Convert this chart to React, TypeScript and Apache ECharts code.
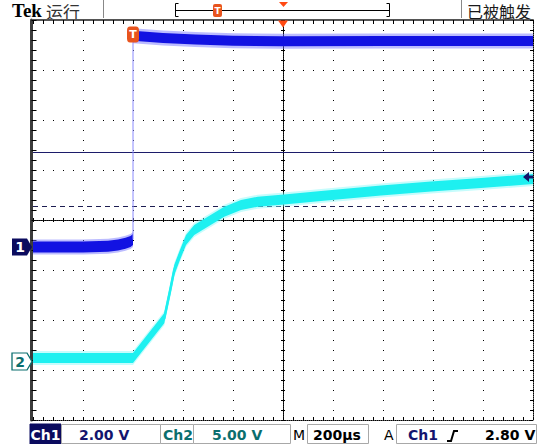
import React, { useEffect, useRef } from "react";
import * as echarts from "echarts";

// ---- scope settings ----
const timePerDivUs = 200;
const timeStartUs = -400;
const timeEndUs = 1600;
const centerTimeUs = 600;
const triggerTimeUs = 0;
const ch1VoltsPerDiv = 2;
const ch2VoltsPerDiv = 5;
const ch1GroundDiv = -0.54;
const ch2GroundDiv = -2.83;
const triggerLevelV = 2.8;
const cursorSolidV = 3.8;
const cursorDashedV = 1.64;

// ---- traces (time in µs, volts) ----
const ch1LowTimes = [-400, -200, -100, -60, -30, -10, 0];
const ch1LowVolts = [0.0, 0.0, 0.03, 0.08, 0.15, 0.22, 0.3];
const ch1HighTimes = [0, 40, 120, 250, 400, 600, 1000, 1300, 1600];
const ch1HighVolts = [8.45, 8.42, 8.36, 8.3, 8.25, 8.23, 8.24, 8.24, 8.24];
const ch1EdgeTimes = [0, 0];
const ch1EdgeVolts = [0.3, 8.2];
const ch2Times = [-400, 0, 125, 149, 165, 185, 212, 245, 299, 365, 432, 499, 604, 752, 992, 1192, 1392, 1600];
const ch2Volts = [0.35, 0.35, 4.32, 7.15, 9.15, 10.48, 12.15, 13.15, 13.98, 14.98, 15.65, 15.98, 16.2, 16.55, 17.1, 17.5, 17.85, 18.25];

// ---- labels ----
const statusLabels = ["Tek", "运行", "已被触发"];
const readoutLabels = ["Ch1", "2.00 V", "Ch2", "5.00 V", "M", "200µs", "A", "Ch1", "2.80 V"];
const channelMarkers = ["1", "2"];
const triggerMarker = "T";

const DOT = "#000000";
const NAVY = "#0b0b5e";
const TEAL = "#0b6e6e";
const ORANGE = "#e8541e";
const FONT = "DejaVu Sans";

const ch1Min = (-4 - ch1GroundDiv) * ch1VoltsPerDiv;
const ch1Max = (4 - ch1GroundDiv) * ch1VoltsPerDiv;
const ch2Min = (-4 - ch2GroundDiv) * ch2VoltsPerDiv;
const ch2Max = (4 - ch2GroundDiv) * ch2VoltsPerDiv;

function bandSeries(times: number[], volts: number[], yAxisIndex: number, half: number, fuzz: number, color: string, fuzzColor: string, z: number) {
  return {
    type: "custom",
    xAxisIndex: 0,
    yAxisIndex,
    z,
    silent: true,
    clip: true,
    encode: { x: 0, y: 1 },
    data: times.map((t, i) => [t, volts[i]]),
    renderItem: (params: any, api: any) => {
      if (params.dataIndex !== 0) return null;
      const poly = (h: number) => {
        const top: number[][] = [];
        const bot: number[][] = [];
        for (let i = 0; i < times.length; i++) {
          const p = api.coord([times[i], volts[i]]);
          top.push([p[0], p[1] - h]);
          bot.unshift([p[0], p[1] + h]);
        }
        return top.concat(bot);
      };
      return {
        type: "group",
        children: [
          { type: "polygon", shape: { points: poly(fuzz) }, style: { fill: fuzzColor, opacity: 0.45 } },
          { type: "polygon", shape: { points: poly(half) }, style: { fill: color } },
        ],
      };
    },
  };
}

function edgeAxis(extra: any) {
  return {
    type: "value",
    axisLabel: { show: false },
    splitLine: { show: false },
    ...extra,
  };
}

function text(x: number, y: number, str: string, fill: string, size: number, weight: string, family: string, align = "left") {
  return {
    type: "text",
    x,
    y,
    silent: true,
    style: { text: str, fill, fontSize: size, fontWeight: weight, fontFamily: family, align, verticalAlign: "middle" },
  };
}

function box(x: number, y: number, w: number, h: number, fill: string, stroke: string) {
  return { type: "rect", silent: true, shape: { x, y, width: w, height: h }, style: { fill, stroke, lineWidth: 1 } };
}

export default function App() {
  const ref = useRef<HTMLDivElement>(null);
  useEffect(() => {
    if (!ref.current) return;
    const chart = echarts.init(ref.current, undefined, { renderer: "svg" });

    const tickStyle = { color: DOT, width: 1 };
    const option: any = {
      animation: false,
      backgroundColor: "#ffffff",
      grid: { left: 33, top: 20, width: 500, height: 400, show: false },
      xAxis: [
        edgeAxis({
          min: timeStartUs, max: timeEndUs, interval: timePerDivUs, position: "bottom",
          axisLine: { show: true, onZero: false, lineStyle: { color: DOT, width: 1, type: [1, 1] } },
          axisTick: { show: true, inside: true, length: 3, lineStyle: tickStyle },
          minorTick: { show: true, splitNumber: 5, length: 3, lineStyle: tickStyle },
          splitLine: { show: true, lineStyle: { color: DOT, width: 1, type: [1, 9] } },
        }),
        edgeAxis({
          min: timeStartUs, max: timeEndUs, interval: timePerDivUs, position: "top",
          axisLine: { show: true, onZero: false, lineStyle: { color: "#555555", width: 2 } },
          axisTick: { show: true, inside: true, length: 4, lineStyle: tickStyle },
          minorTick: { show: true, splitNumber: 5, length: 4, lineStyle: tickStyle },
        }),
        edgeAxis({
          min: -5, max: 5, interval: 1, position: "bottom",
          axisLine: { show: true, onZero: true, onZeroAxisIndex: 2, lineStyle: { color: DOT, width: 1, type: [1, 1] } },
          axisTick: { show: true, inside: true, length: 2, lineStyle: tickStyle },
          minorTick: { show: true, splitNumber: 5, length: 2, lineStyle: tickStyle },
        }),
        edgeAxis({
          min: -5, max: 5, interval: 1, position: "top",
          axisLine: { show: true, onZero: true, onZeroAxisIndex: 2, lineStyle: { color: DOT, width: 1, type: [1, 1] } },
          axisTick: { show: true, inside: true, length: 2, lineStyle: tickStyle },
          minorTick: { show: true, splitNumber: 5, length: 2, lineStyle: tickStyle },
        }),
      ],
      yAxis: [
        { type: "value", min: ch1Min, max: ch1Max, show: false, axisLine: { onZero: false } },
        { type: "value", min: ch2Min, max: ch2Max, show: false, axisLine: { onZero: false } },
        edgeAxis({
          min: -4, max: 4, interval: 1, position: "left", offset: 1.5,
          axisLine: { show: true, onZero: false, lineStyle: { color: "#3c3c3c", width: 3 } },
          axisTick: { show: true, inside: true, length: 5, lineStyle: tickStyle },
          minorTick: { show: true, splitNumber: 5, length: 5, lineStyle: tickStyle },
          splitLine: { show: true, lineStyle: { color: DOT, width: 1, type: [1, 9] } },
        }),
        edgeAxis({
          min: -4, max: 4, interval: 1, position: "right",
          axisLine: { show: true, onZero: false, lineStyle: { color: DOT, width: 1, type: [1, 1] } },
          axisTick: { show: true, inside: true, length: 3, lineStyle: tickStyle },
          minorTick: { show: true, splitNumber: 5, length: 3, lineStyle: tickStyle },
        }),
        edgeAxis({
          min: -4, max: 4, interval: 1, position: "left",
          axisLine: { show: true, onZero: true, onZeroAxisIndex: 2, lineStyle: { color: DOT, width: 1, type: [1, 1] } },
          axisTick: { show: true, inside: true, length: 2, lineStyle: tickStyle },
          minorTick: { show: true, splitNumber: 5, length: 2, lineStyle: tickStyle },
        }),
        edgeAxis({
          min: -4, max: 4, interval: 1, position: "right",
          axisLine: { show: true, onZero: true, onZeroAxisIndex: 2, lineStyle: { color: DOT, width: 1, type: [1, 1] } },
          axisTick: { show: true, inside: true, length: 2, lineStyle: tickStyle },
          minorTick: { show: true, splitNumber: 5, length: 2, lineStyle: tickStyle },
        }),
      ],
      series: [
        bandSeries(ch1LowTimes, ch1LowVolts, 0, 5.5, 7.5, "#1212e2", "#6a6aff", 3),
        bandSeries(ch1HighTimes, ch1HighVolts, 0, 5, 7.5, "#1212e2", "#6a6aff", 3),
        {
          type: "line",
          xAxisIndex: 0,
          yAxisIndex: 0,
          z: 3,
          silent: true,
          clip: false,
          symbol: "none",
          data: ch1EdgeTimes.map((t, i) => [t, ch1EdgeVolts[i]]),
          lineStyle: { color: "#8a8aff", width: 1 },
          markLine: {
            silent: true,
            z: 1,
            symbol: "none",
            label: { show: false },
            data: [
              { yAxis: cursorSolidV, lineStyle: { color: "#1c1c6a", width: 1, type: "solid" } },
              { yAxis: cursorDashedV, lineStyle: { color: "#1c1c50", width: 1, type: [5, 4] } },
            ],
          },
          markPoint: {
            silent: true,
            z: 6,
            data: [
              {
                coord: [timeStartUs, 0],
                symbol: "path://M0 0H15L20 8.5L15 17H0Z",
                symbolSize: [20, 17],
                symbolOffset: [-11, 0],
                itemStyle: { color: NAVY },
                label: { show: true, formatter: channelMarkers[0], color: "#fff", fontWeight: "bold", fontSize: 14, fontFamily: FONT, offset: [-2, 0] },
              },
              {
                coord: [triggerTimeUs, 8.5],
                symbol: "roundRect",
                symbolSize: [12, 16],
                itemStyle: { color: ORANGE },
                label: { show: true, formatter: triggerMarker, color: "#fff", fontWeight: "bold", fontSize: 11, fontFamily: FONT },
              },
              {
                coord: [timeEndUs, triggerLevelV],
                symbol: "path://M0 5L6 0L6 3.5L10 3.5L10 6.5L6 6.5L6 10Z",
                symbolSize: [10, 10],
                symbolOffset: [-5, 0],
                itemStyle: { color: "#16166a" },
                label: { show: false },
              },
              {
                coord: [centerTimeUs, ch1Max],
                symbol: "triangle",
                symbolRotate: 180,
                symbolSize: [10, 7],
                symbolOffset: [0, 4],
                itemStyle: { color: "#ff4a14" },
                label: { show: false },
              },
            ],
          },
        },
        bandSeries(ch2Times, ch2Volts, 1, 5, 7, "#1ef0f0", "#80f8f8", 4),
        {
          type: "line",
          xAxisIndex: 0,
          yAxisIndex: 1,
          z: 4,
          silent: true,
          clip: false,
          symbol: "none",
          data: ch2Times.map((t, i) => [t, ch2Volts[i]]),
          lineStyle: { color: "#1ef0f0", width: 2.5, join: "round" },
          markPoint: {
            silent: true,
            z: 6,
            data: [
              {
                coord: [timeStartUs, 0],
                symbol: "path://M0 0H15L20 8.5L15 17H0Z",
                symbolSize: [20, 17],
                symbolOffset: [-11, 0],
                itemStyle: { color: "#ffffff", borderColor: TEAL, borderWidth: 1.2 },
                label: { show: true, formatter: channelMarkers[1], color: TEAL, fontWeight: "bold", fontSize: 14, fontFamily: FONT, offset: [-2, 0] },
              },
            ],
          },
        },
      ],
      graphic: [
        // top status bar
        text(12, 10, statusLabels[0], "#000", 19, "bold", "Liberation Serif"),
        text(46, 11, statusLabels[1], "#333", 17, "normal", "Noto Sans CJK SC"),
        { type: "line", silent: true, shape: { x1: 103.5, y1: 0, x2: 103.5, y2: 18 }, style: { stroke: "#888", lineWidth: 1 } },
        { type: "polyline", silent: true, shape: { points: [[178.5, 3.5], [175.5, 3.5], [175.5, 16.5], [178.5, 16.5]] }, style: { stroke: "#000", lineWidth: 1, fill: null } },
        { type: "line", silent: true, shape: { x1: 175.5, y1: 10.5, x2: 389.5, y2: 10.5 }, style: { stroke: "#000", lineWidth: 1 } },
        { type: "polyline", silent: true, shape: { points: [[386.5, 3.5], [389.5, 3.5], [389.5, 16.5], [386.5, 16.5]] }, style: { stroke: "#000", lineWidth: 1, fill: null } },
        { type: "rect", silent: true, shape: { x: 213, y: 4, width: 9, height: 13, r: 2 }, style: { fill: ORANGE } },
        text(217.5, 10.5, triggerMarker, "#fff", 9, "bold", FONT, "center"),
        { type: "polygon", silent: true, shape: { points: [[279, 2], [288, 2], [283.5, 7]] }, style: { fill: "#ff4a14" } },
        { type: "line", silent: true, shape: { x1: 461.5, y1: 0, x2: 461.5, y2: 18 }, style: { stroke: "#888", lineWidth: 1 } },
        text(467, 10.5, statusLabels[2], "#1a1a1a", 16, "normal", "Noto Sans CJK SC"),
        // bottom readout bar
        box(30, 424, 31, 20, NAVY, NAVY),
        text(45.5, 435, readoutLabels[0], "#fff", 14, "bold", FONT, "center"),
        box(61.5, 424.5, 99, 19, "#fff", "#a8a8a8"),
        text(79, 435, readoutLabels[1], "#14146e", 14, "bold", FONT),
        box(160.5, 424.5, 33, 19, "#fff", "#a8a8a8"),
        text(163, 435, readoutLabels[2], TEAL, 14, "bold", FONT),
        box(193.5, 424.5, 97, 19, "#fff", "#a8a8a8"),
        text(212, 435, readoutLabels[3], TEAL, 14, "bold", FONT),
        text(293, 435, readoutLabels[4], "#000", 14, "normal", FONT),
        box(307.5, 424.5, 61, 19, "#fff", "#a8a8a8"),
        text(313, 435, readoutLabels[5], "#000", 14, "bold", FONT),
        text(384, 435, readoutLabels[6], "#000", 14, "normal", FONT),
        box(396.5, 424.5, 140, 19, "#fff", "#a8a8a8"),
        text(408, 435, readoutLabels[7], "#14146e", 14, "bold", FONT),
        { type: "polyline", silent: true, shape: { points: [[447, 441], [451, 441], [454, 431], [458, 431]] }, style: { stroke: "#000", lineWidth: 2, fill: null } },
        text(485, 435, readoutLabels[8], "#000", 14, "bold", FONT),
      ],
    };
    chart.setOption(option);
    return () => chart.dispose();
  }, []);

  return (
    <div
      ref={ref}
      style={{ position: "fixed", left: 0, top: 0, width: 538, height: 444, background: "#fff" }}
    />
  );
}
